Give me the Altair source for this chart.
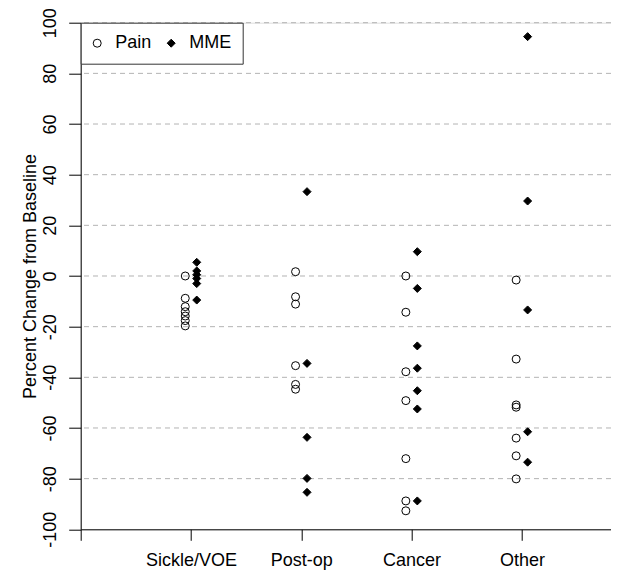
import json
import altair as alt
import pandas as pd

FONT = "Liberation Sans"

categories = ["Sickle/VOE", "Post-op", "Cancer", "Other"]
series = ["Pain", "MME"]

pain_values = [
    [0, -8.8, -12.1, -14.1, -15.8, -17.6, -19.7],
    [1.7, -8.2, -11.1, -35.4, -42.8, -44.7],
    [0, -14.3, -37.8, -49.2, -72.1, -88.8, -92.7],
    [-1.6, -32.8, -50.9, -51.8, -64, -71, -80.1],
]
mme_values = [
    [5.4, 2, 0.5, -1, -3, -9.5],
    [33.3, -34.5, -63.7, -79.9, -85.4],
    [9.6, -4.9, -27.6, -36.4, -45.3, -52.5, -88.8],
    [94.5, 29.6, -13.4, -61.5, -73.5],
]

y_ticks = list(range(-100, 101, 20))
grid_values = list(range(-80, 101, 20))
x_ticks = [0, 1, 2, 3, 4]

# dodge of the two series around each category position (data units)
DODGE = 0.052
rows = []
for i, cat in enumerate(categories):
    for v in pain_values[i]:
        rows.append({"category": cat, "pos": i + 1 - DODGE, "series": "Pain", "value": v})
    for v in mme_values[i]:
        rows.append({"category": cat, "pos": i + 1 + DODGE, "series": "MME", "value": v})
df = pd.DataFrame(rows)
grid_df = pd.DataFrame({"value": grid_values})

W = 530.3
H = 506.6
X_MAX = 4.808

y_scale = alt.Scale(domain=[-100, 100], nice=False, zero=False)
y_axis = alt.Axis(
    values=y_ticks,
    labelExpr="'' + datum.value",
    labelAngle=270,
    labelAlign="center",
    labelBaseline="alphabetic",
    labelPadding=13,
    labelFontSize=18,
    labelFont=FONT,
    labelColor="black",
    tickSize=12,
    tickColor="black",
    tickWidth=1,
    domainColor="black",
    domainWidth=1,
    grid=False,
    title="Percent Change from Baseline",
    titleFont=FONT,
    titleFontSize=18,
    titleFontWeight="normal",
    titleColor="black",
    titleAngle=270,
    titleAlign="center",
    titleBaseline="alphabetic",
    titleX=-45,
    titleY=H / 2,
)

label_expr = "datum.value >= 1 ? " + json.dumps(categories) + "[datum.value - 1] : ''"
x_axis = alt.Axis(
    values=x_ticks,
    labelExpr=label_expr,
    title=None,
    grid=False,
    domainColor="black",
    domainWidth=1,
    tickColor="black",
    tickWidth=1,
    tickSize=11,
    labelFontSize=18,
    labelFont=FONT,
    labelColor="black",
    labelPadding=11,
    labelFlush=False,
    labelOverlap=False,
)
x_scale = alt.Scale(domain=[0, X_MAX], nice=False, zero=False)

grid = alt.Chart(grid_df).mark_rule(
    color="#b3b3b3", strokeDash=[5, 4], strokeWidth=1
).encode(
    y=alt.Y("value:Q", scale=y_scale, axis=y_axis),
)

legend = alt.Legend(
    title=None,
    orient="none",
    legendX=0,
    legendY=0,
    direction="horizontal",
    columns=2,
    fillColor="white",
    strokeColor="#333333",
    padding=11.5,
    cornerRadius=0,
    labelFontSize=18,
    labelFont=FONT,
    labelColor="black",
    symbolSize=64,
    symbolStrokeWidth=1,
    symbolOffset=-4,
    labelOffset=9,
    columnPadding=13,
)

points = alt.Chart(df).mark_point(
    filled=True, strokeWidth=1, opacity=1, size=64
).encode(
    x=alt.X("pos:Q", scale=x_scale, axis=x_axis),
    y=alt.Y("value:Q", scale=y_scale, axis=y_axis),
    shape=alt.Shape("series:N", scale=alt.Scale(domain=series, range=["circle", "diamond"]), legend=legend),
    fill=alt.Fill("series:N", scale=alt.Scale(domain=series, range=["transparent", "black"]), legend=legend),
    stroke=alt.Stroke("series:N", scale=alt.Scale(domain=series, range=["black", "black"]), legend=legend),
)

chart = alt.layer(grid, points).properties(
    width=W,
    height=H,
    autosize=alt.AutoSizeParams(type="none"),
    padding={"left": 72.7, "top": 14.7, "right": 0, "bottom": 41},
).configure_view(stroke=None).configure(font=FONT)

chart.save("out.html", embed_options={"renderer": "svg", "actions": False})
